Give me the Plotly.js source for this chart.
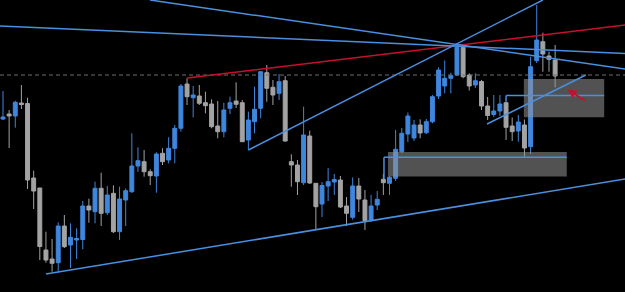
<!DOCTYPE html>
<html>
<head>
<meta charset="utf-8">
<script src="https://cdn.plot.ly/plotly-3.0.1.min.js"></script>
<style>html,body{margin:0;padding:0;background:#000;}#chart{width:625px;height:292px;}</style>
</head>
<body>
<div id="chart"></div>
<script>
// Candle data (price units)
const openP  = [181,186,184,197,196.5,122,112,50,41,37.3,74,55,60,60.5,94,88.3,111.7,87.3,106.7,68.3,100,108.3,134,138.3,128.3,124,146.7,140,151.7,171.7,216,202.3,204,197.3,196,174,168.3,191.7,199,197.3,160,178.3,191.7,227.3,212.7,206.7,219.3,138.3,135,117.3,164,116.7,96,114,118,120,94,82.7,114,100,80,95,120.7,116.7,121.7,148.3,166,162,175,167.3,178.3,204,214,221.7,225,252.7,225,215,218.5,194,185.5,189,197.3,174,169,175,153.3,239.3,258.3,244,240];
const highP  = [209,190,199.3,215,202.3,129.3,112,68.3,61,77.7,85,76.7,71.7,99,101.3,118.3,127.3,114,114.7,113.3,111.7,166.7,152.7,150,130.7,147.7,151.7,162.7,175,216,221.7,214,215,208.3,200.7,199,197.3,203.3,217.7,200,188.3,213.3,228.3,235,220,226,224,145.7,140,193.3,169.3,116.7,118,132,126,124,103,122.5,122,110,105,109,126,124,170,172,187.5,180,180.7,181,205,232.7,239.5,227.3,256,255,226.7,226.7,220,203,205,205,198.3,182.5,185,180.5,243.3,295,267.3,248.3,255];
const lowP   = [180,152,172.3,191,111,91,40,37.3,28.3,28.3,52,32,41,50.7,77.3,76.7,74,85,67,60,74,107,128.3,123.3,115,107.3,135,136.7,136.7,168.3,195,182.7,195,186.7,171.7,161.7,162.7,186,192,158,150,166.7,181.7,198.3,195,200,158.3,113.3,105,115,116,70.5,83,99,105,92,74,80.3,88,70,78,90,105,105,119,147,158,159,161.7,166,176.7,201,206.7,206.7,224,221.7,209.5,212,190,180,183,184,160,159,158.3,143.3,146,237,228.3,228.3,212.7];
const closeP = [183,184,197.7,195.5,120,109,53.5,40,36.7,74,53.3,62.7,61.5,94,90,111.7,86.7,105,68.3,101,109.3,134,139.3,128.3,124.3,146,138.3,151.7,171.7,214,203.3,205,196.7,194.3,173.3,168.3,190,197.3,195.7,158.3,180,190.7,228.3,211.7,205,218.3,159,135,118.3,165,117,93.3,114.5,118.3,120.5,93,86.7,114,101,79.3,94,100.7,117.3,122.7,150.7,166.7,184,175,167,178.3,203.3,230,221.7,224.3,252.7,223.3,214,219.3,194,184.5,189,196,172.7,168.3,178,152,233.3,260,246,240.7,224];
const bars = openP.map((_, i) => i);

// Drawn objects (x = bar index, y = price)
const dashedLevel = 225;
const redTrend    = {x: [30, 101.4],   y: [222, 275]};
const blueTrends  = [
  {x: [-0.49, 101.4], y: [274, 246.5]},
  {x: [23.96, 101.4], y: [300, 231]},
  {x: [40, 88.0],     y: [150, 300]},
  {x: [7.0, 101.4],   y: [26, 121]},
  {x: [78.9, 95.0],   y: [176, 225]},
  {x: [82.0, 98.0],   y: [204.5, 204.5]},
  {x: [62.1, 91.9],   y: [142.7, 142.7]},
  {x: [62.1, 62.1],   y: [142.7, 121]},
  {x: [82.0, 82.0],   y: [204.5, 198.3]}
];
const zones = [
  {x: [62.75, 91.9], y: [123.5, 148]},
  {x: [84.9, 98.0],  y: [182.7, 221]}
];
const arrowHead = {x: 92.0, y: 210.5};

const BLUE = '#3f86de', GREY = '#a3a3a3', LINE = '#4a8fe0', RED = '#c8102e';

const shapes = [];
shapes.push({type: 'line', xref: 'paper', x0: 0, x1: 1, yref: 'y', y0: dashedLevel, y1: dashedLevel,
  line: {color: '#6e6e6e', width: 1, dash: '4px,3px'}, layer: 'above'});
zones.forEach(z => shapes.push({type: 'rect', xref: 'x', yref: 'y', x0: z.x[0], x1: z.x[1], y0: z.y[0], y1: z.y[1],
  fillcolor: 'rgba(150,150,150,0.55)', line: {width: 0}, layer: 'above'}));
shapes.push({type: 'line', xref: 'x', yref: 'y', x0: redTrend.x[0], x1: redTrend.x[1], y0: redTrend.y[0], y1: redTrend.y[1],
  line: {color: RED, width: 1.5}, layer: 'above'});
blueTrends.forEach(t => shapes.push({type: 'line', xref: 'x', yref: 'y', x0: t.x[0], x1: t.x[1], y0: t.y[0], y1: t.y[1],
  line: {color: LINE, width: 1.5}, layer: 'above'}));

const trace = {
  type: 'candlestick', x: bars, open: openP, high: highP, low: lowP, close: closeP,
  increasing: {line: {color: BLUE, width: 1}, fillcolor: BLUE},
  decreasing: {line: {color: GREY, width: 1}, fillcolor: GREY},
  whiskerwidth: 0, hoverinfo: 'none'
};

const layout = {
  width: 625, height: 292,
  margin: {l: 0, r: 0, t: 0, b: 0, pad: 0},
  paper_bgcolor: '#000', plot_bgcolor: '#000',
  showlegend: false,
  boxgap: 0.2, boxgroupgap: 0.2,
  xaxis: {visible: false, range: [-0.489, 101.39], rangeslider: {visible: false}, fixedrange: true},
  yaxis: {visible: false, range: [8, 300], fixedrange: true},
  shapes: shapes,
  annotations: [{x: arrowHead.x, y: arrowHead.y, xref: 'x', yref: 'y', text: '', showarrow: true,
    arrowhead: 2, arrowsize: 1, arrowwidth: 1.8, arrowcolor: RED, ax: 19, ay: 12, standoff: 0}]
};

Plotly.newPlot('chart', [trace], layout, {displayModeBar: false, staticPlot: true});
</script>
</body>
</html>
